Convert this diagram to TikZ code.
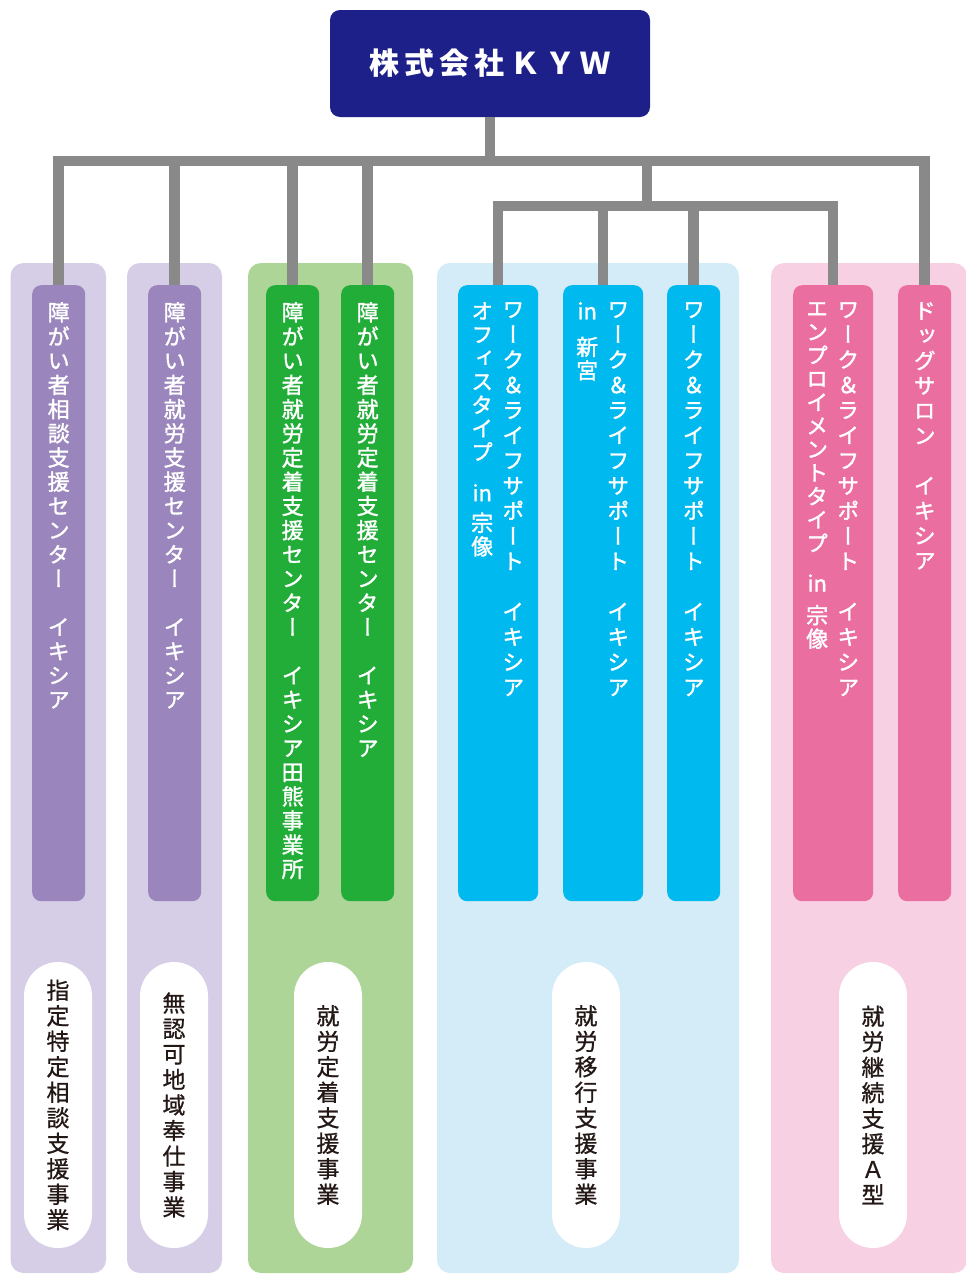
\documentclass[tikz,border=0pt]{standalone}
\usepackage{fontspec}
\usetikzlibrary{positioning}
\newfontfamily\jpls[LetterSpace=17]{Noto Sans CJK JP}
\newfontfamily\jpv[RawFeature=+vert, FakeBold=1.5]{Noto Sans CJK JP}
\newfontfamily\jpvp[RawFeature=+vert, FakeBold=0.8]{Noto Sans CJK JP}
\definecolor{kywblue}{RGB}{29,32,136}
\definecolor{linegray}{RGB}{137,137,137}
\definecolor{lavbg}{RGB}{214,206,230}
\definecolor{lav}{RGB}{154,134,188}
\definecolor{grnbg}{RGB}{174,213,152}
\definecolor{grn}{RGB}{34,172,56}
\definecolor{blubg}{RGB}{212,235,248}
\definecolor{blu}{RGB}{0,185,239}
\definecolor{pnkbg}{RGB}{247,209,227}
\definecolor{pnk}{RGB}{235,110,161}
\definecolor{ink}{RGB}{35,24,21}
\makeatletter
\newcommand\tate[1]{\tate@#1\@nil}
\def\tate@#1#2\@nil{#1\if\relax\detokenize{#2}\relax\expandafter\@gobble\else\expandafter\@firstofone\fi{\\\tate@#2\@nil}}
\makeatother
\tikzset{
	conn/.style={draw=linegray, line width=10.5pt},
	unit/.style={fill=#1, rounded corners=9pt, inner sep=0pt, anchor=north west, minimum width=53pt, minimum height=616pt},
	wide/.style={minimum width=80pt},
	vt/.style={text=white, font=\jpv\fontsize{22}{#1}\selectfont, align=center, inner sep=0pt},
	vt/.default=24.2,
	pill/.style={fill=white, rounded corners=34pt, minimum width=68pt, minimum height=286pt, inner sep=0pt, align=center, text=ink, font=\jpvp\fontsize{23}{25.5}\selectfont}
}
\begin{document}
\begin{tikzpicture}[x=1pt, y=-1pt]
	\useasboundingbox (0,0) rectangle (966,1274);
	\fill[lavbg, rounded corners=13pt] (10.5,263) rectangle (106,1273);
	\fill[lavbg, rounded corners=13pt] (127,263) rectangle (222,1273);
	\fill[grnbg, rounded corners=13pt] (248,263) rectangle (413,1273);
	\fill[blubg, rounded corners=13pt] (437,263) rectangle (739,1273);
	\fill[pnkbg, rounded corners=13pt] (771,263) rectangle (967,1273);

	\node[fill=kywblue, rounded corners=10pt, minimum width=320pt, minimum height=107pt, text=white, font=\jpls\bfseries\fontsize{30}{36}\selectfont] (kyw) at (490,63.5) {株式会社ＫＹＷ};

	\node[unit=lav] (s1) at (32,285) {};
	\node[unit=lav] (s2) at (148,285) {};
	\node[unit=grn] (s3) at (266,285) {};
	\node[unit=grn] (s4) at (341,285) {};
	\node[unit=blu, wide] (s5) at (458,285) {};
	\node[unit=blu, wide] (s6) at (563,285) {};
	\node[unit=blu] (s7) at (667,285) {};
	\node[unit=pnk, wide] (s8) at (793,285) {};
	\node[unit=pnk] (s9) at (898,285) {};

	\coordinate (bar1) at (0,161);
	\coordinate (bar2) at (0,206);
	\coordinate (hub) at (647,206);
	\draw[conn] (s1.north) -- (s1.north |- bar1) -- (s9.north |- bar1) -- (s9.north);
	\draw[conn] (kyw.south) -- (kyw.south |- bar1);
	\draw[conn] (s2.north) -- (s2.north |- bar1);
	\draw[conn] (s3.north) -- (s3.north |- bar1);
	\draw[conn] (s4.north) -- (s4.north |- bar1);
	\draw[conn] (hub) -- (hub |- bar1);
	\draw[conn] (s5.north) -- (s5.north |- bar2) -- (s8.north |- bar2) -- (s8.north);
	\draw[conn] (s6.north) -- (s6.north |- bar2);
	\draw[conn] (s7.north) -- (s7.north |- bar2);

	\node[vt, below=17pt of s1.north] (t1) {\tate{障がい者相談支援センター　イキシア}};
	\node[vt, below=17pt of s2.north] (t2) {\tate{障がい者就労支援センター　イキシア}};
	\node[vt, below=17pt of s3.north] (t3) {\tate{障がい者就労定着支援センター　イキシア田熊事業所}};
	\node[vt, below=17pt of s4.north] (t4) {\tate{障がい者就労定着支援センター　イキシア}};
	\node[vt=25.2, below=17pt of s5.north, xshift=15pt] (t5a) {\tate{ワーク＆ライフサポート　イキシア}};
	\node[vt=23.5, below=17pt of s5.north, xshift=-16pt] (t5b) {\tate{オフィスタイプ}\\[17.5pt]in\\[6.5pt]\tate{宗像}};
	\node[vt=25.2, below=17pt of s6.north, xshift=15pt] (t6a) {\tate{ワーク＆ライフサポート　イキシア}};
	\node[vt=23.5, below=17pt of s6.north, xshift=-16pt] (t6b) {in\\[12.5pt]\tate{新宮}};
	\node[vt=25.2, below=17pt of s7.north] (t7) {\tate{ワーク＆ライフサポート　イキシア}};
	\node[vt=25.2, below=17pt of s8.north, xshift=15pt] (t8a) {\tate{ワーク＆ライフサポート　イキシア}};
	\node[vt=23.5, below=17pt of s8.north, xshift=-16pt] (t8b) {\tate{エンプロイメントタイプ}\\[16.5pt]in\\[8.5pt]\tate{宗像}};
	\node[vt=25, below=17pt of s9.north] (t9) {\tate{ドッグサロン　イキシア}};

	\node[pill] (b1) at (58,1105) {\tate{指定特定相談支援事業}};
	\node[pill] (b2) at (174,1105) {\tate{無認可地域奉仕事業}};
	\node[pill] (b3) at (328,1105) {\tate{就労定着支援事業}};
	\node[pill] (b4) at (586,1105) {\tate{就労移行支援事業}};
	\node[pill] (b5) at (873,1105) {\tate{就労継続支援Ａ型}};
\end{tikzpicture}
\end{document}
